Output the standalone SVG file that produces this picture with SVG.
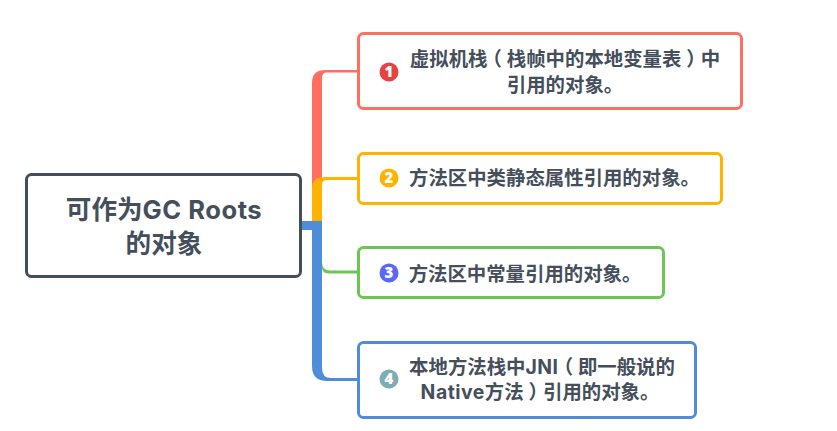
<svg xmlns="http://www.w3.org/2000/svg" width="837" height="431" viewBox="0 0 837 431">
  <style>
    text { font-family: "Inter", "Noto Sans CJK SC", sans-serif; font-weight: 700; fill: #454f5b; text-anchor: middle; }
    .label { font-size: 19.4px; }
    .root { font-size: 25.6px; }
    .box { fill: #fff; stroke-width: 3; }
    .num { font-size: 15px; fill: #fff; font-family: "Open Sans", sans-serif; font-weight: 800; }
    .latin { letter-spacing: 0.5px; }
    .paren { font-family: "Noto Sans CJK SC", sans-serif; font-feature-settings: "halt"; }
  </style>
  <rect width="837" height="431" fill="#fff"/>
  <g id="connectors">
    <path d="M312 226V83Q312 70 325 70H358V72.500H327Q322 72.500 322 78V226Z" fill="#ff6f61"/>
    <path d="M312 226V188Q312 177 325 177H358V180H327Q322 180 322 185V226Z" fill="#ffb300"/>
    <path d="M322 262Q322 270.500 330 270.500H358V273.500H330Q322 273.500 322 268Z" fill="#6cc654"/>
    <path d="M301 221H322V230H301Z" fill="#4f8cd9"/>
    <path d="M312 221H322V368Q322 378 331 378H358V381H327Q312 381 312 366Z" fill="#4f8cd9"/>
  </g>
  <g id="root">
    <rect class="box" x="26.500" y="174.500" width="274" height="102" rx="5" stroke="#454f5b"/>
    <text class="root" x="164" y="218.500">可作为<tspan class="latin">GC Roots</tspan></text>
    <text class="root" x="164" y="252.500">的对象</text>
  </g>
  <g id="node1">
    <rect class="box" x="358.500" y="33.500" width="383" height="75" rx="5" stroke="#ff6f61"/>
    <circle cx="389" cy="72" r="9.500" fill="#e84142"/>
    <text class="num" x="389" y="77.400">1</text>
    <text class="label" x="565" y="66">虚拟机栈<tspan class="paren" dx="4.850">（</tspan><tspan dx="4.850">栈帧中的本地变量表</tspan><tspan class="paren" dx="4.850">）</tspan><tspan dx="4.850">中</tspan></text>
    <text class="label" x="565" y="92">引用的对象。</text>
  </g>
  <g id="node2">
    <rect class="box" x="358.500" y="153.500" width="363" height="50" rx="5" stroke="#ffb300"/>
    <circle cx="389" cy="178" r="9.500" fill="#ffb300"/>
    <text class="num" x="389" y="183.400">2</text>
    <text class="label" x="554.500" y="185">方法区中类静态属性引用的对象。</text>
  </g>
  <g id="node3">
    <rect class="box" x="358.500" y="247.500" width="305" height="50" rx="5" stroke="#6cc654"/>
    <circle cx="389" cy="273" r="9.500" fill="#5a68f5"/>
    <text class="num" x="389" y="278.400">3</text>
    <text class="label" x="525" y="281">方法区中常量引用的对象。</text>
  </g>
  <g id="node4">
    <rect class="box" x="358.500" y="342.500" width="337" height="75" rx="5" stroke="#4f8cd9"/>
    <circle cx="389" cy="379" r="9.500" fill="#7fabb3"/>
    <text class="num" x="389" y="384.400">4</text>
    <text class="label" x="542" y="374">本地方法栈中<tspan class="latin">JNI</tspan><tspan class="paren" dx="4.850">（</tspan><tspan dx="4.850">即一般说的</tspan></text>
    <text class="label" x="540" y="399"><tspan class="latin">Native</tspan>方法<tspan class="paren" dx="4.850">）</tspan><tspan dx="4.850">引用的对象。</tspan></text>
  </g>
</svg>
